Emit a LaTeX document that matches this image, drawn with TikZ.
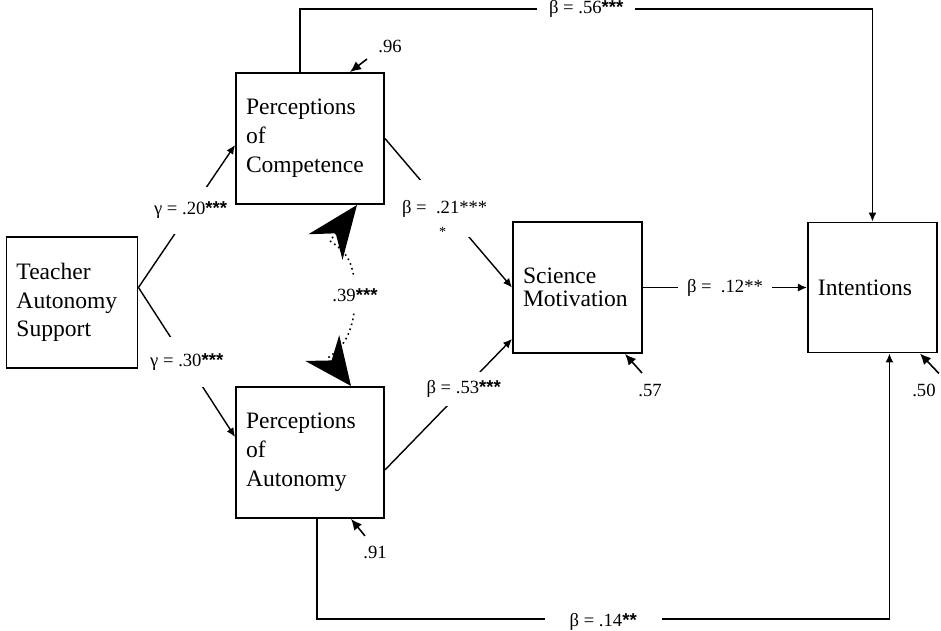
\documentclass[tikz,border=0pt]{standalone}
\usepackage{fontspec}
\setmainfont{Liberation Serif}
\newfontfamily\starfont{Liberation Sans}
\usepackage{tikz}
\usetikzlibrary{arrows.meta,positioning,calc}
\newcommand{\boxfont}{\fontsize{13.4}{16.4}\selectfont}
\newcommand{\scifont}{\fontsize{13.4}{13.2}\selectfont}
\newcommand{\coeffont}{\fontsize{10.6}{12.5}\selectfont}
\newcommand{\stars}[1]{{\starfont\bfseries #1}}

\begin{document}
\begin{tikzpicture}[
  box/.style={draw, line width=1.1pt, minimum height=2.62cm, inner xsep=0.2cm, align=left, font=\boxfont},
  arrow/.style={-{Latex[length=1.8mm, width=1.6mm]}, line width=0.8pt},
  resid/.style={-{Latex[length=2.2mm, width=2mm]}, line width=0.9pt},
  coef/.style={fill=white, inner sep=1pt, font=\coeffont},
  est/.style={inner sep=1pt, font=\coeffont},
  corr/.style={{Stealth[length=1.05cm, width=0.85cm]}-{Stealth[length=0.95cm, width=0.85cm]}, dotted, line width=0.9pt}
]
  \useasboundingbox (0,0) rectangle (18.82,-12.6);

  \node[box, text width=2.22cm] (teacher) at (1.44,-6.05) {Teacher\\Autonomy\\Support};
  \node[box, text width=2.56cm] (competence) at (6.2,-2.77) {Perceptions\\of\\Competence};
  \node[box, text width=2.56cm, below=3.62cm of competence] (autonomy) {Perceptions\\of\\Autonomy};
  \node[box, text width=2.18cm, font=\scifont] (science) at (11.55,-5.75) {Science\\Motivation};
  \node[box, text width=2.18cm, minimum height=2.6cm, right=3.28cm of science] (intentions) {Intentions};

  % paths between the constructs
  \draw[arrow] ([yshift=0.3cm]teacher.east) -- node[coef, pos=0.54, inner ysep=0.31cm] (g20) {γ = .20\stars{***}} ([yshift=-0.13cm]competence.west);
  \draw[arrow] ([yshift=0.3cm]teacher.east) -- node[coef, pos=0.5, inner ysep=0.33cm] (g30) {γ = .30\stars{***}} ([yshift=0.31cm]autonomy.west);
  \draw[arrow] (competence.east) -- node[coef, pos=0.47, inner ysep=0.4cm] (b21) {β =\ \ .21***} (science.west);
  \node[est, font=\fontsize{8}{8}\selectfont] (b21star) at ([shift={(-0.04cm,-0.47cm)}]b21) {*};
  \draw[arrow] ([yshift=-0.35cm]autonomy.east) -- node[coef, pos=0.62, inner ysep=0.17cm] (b53) {β = .53\stars{***}} ([yshift=0.3cm]science.south west);
  \draw[arrow] (science.east) -- node[coef, inner xsep=0.18cm] (b12) {β =\ \ .12**} (intentions.west);
  \draw[arrow] ([xshift=-0.2cm]competence.north) -- ++(0,1.26) -| node[coef, pos=0.25, inner xsep=0.24cm] (b56) {β = .56\stars{***}} (intentions.north);
  \draw[arrow] ([xshift=0.14cm]autonomy.south) -- ++(0,-2) -| node[coef, pos=0.25, inner xsep=0.5cm, yshift=-0.06cm] (b14) {β = .14\stars{**}} ([xshift=0.34cm]intentions.south);

  % correlation
  \coordinate (m39) at ($(competence.south)!0.5!(autonomy.north)+(0.9cm,0)$);
  \coordinate (p1) at ([shift={(0.4cm,-0.72cm)}]competence.south);
  \coordinate (p2) at ([shift={(0.38cm,0.58cm)}]autonomy.north);
  \draw[corr] ([xshift=0.94cm]competence.south) -- (p1) .. controls +(0.3,-0.2) and +(0,0.7) .. (m39) .. controls +(0,-0.7) and +(0.3,0.2) .. (p2) -- ([xshift=0.82cm]autonomy.north);
  \node[coef, inner ysep=0.22cm] (r39) at (m39) {.39\stars{***}};

  % residuals
  \coordinate (e96) at ([shift={(1.14cm,0.26cm)}]competence.north);
  \draw[resid] (e96) -- ([xshift=0.8cm]competence.north);
  \node[est] (r96) at ([shift={(0.46cm,0.26cm)}]e96) {.96};

  \coordinate (e91) at ([shift={(1.1cm,-0.34cm)}]autonomy.south);
  \draw[resid] (e91) -- ([xshift=0.82cm]autonomy.south);
  \node[est] (r91) at ([shift={(0.2cm,-0.34cm)}]e91) {.91};

  \coordinate (e57) at ([shift={(1.29cm,-0.38cm)}]science.south);
  \draw[resid] (e57) -- ([xshift=0.95cm]science.south);
  \node[est] (r57) at ([shift={(0.16cm,-0.36cm)}]e57) {.57};

  \coordinate (e50) at ([shift={(1.33cm,-0.4cm)}]intentions.south);
  \draw[resid] (e50) -- ([xshift=0.95cm]intentions.south);
  \node[est] (r50) at ([shift={(-0.3cm,-0.34cm)}]e50) {.50};
\end{tikzpicture}
\end{document}
